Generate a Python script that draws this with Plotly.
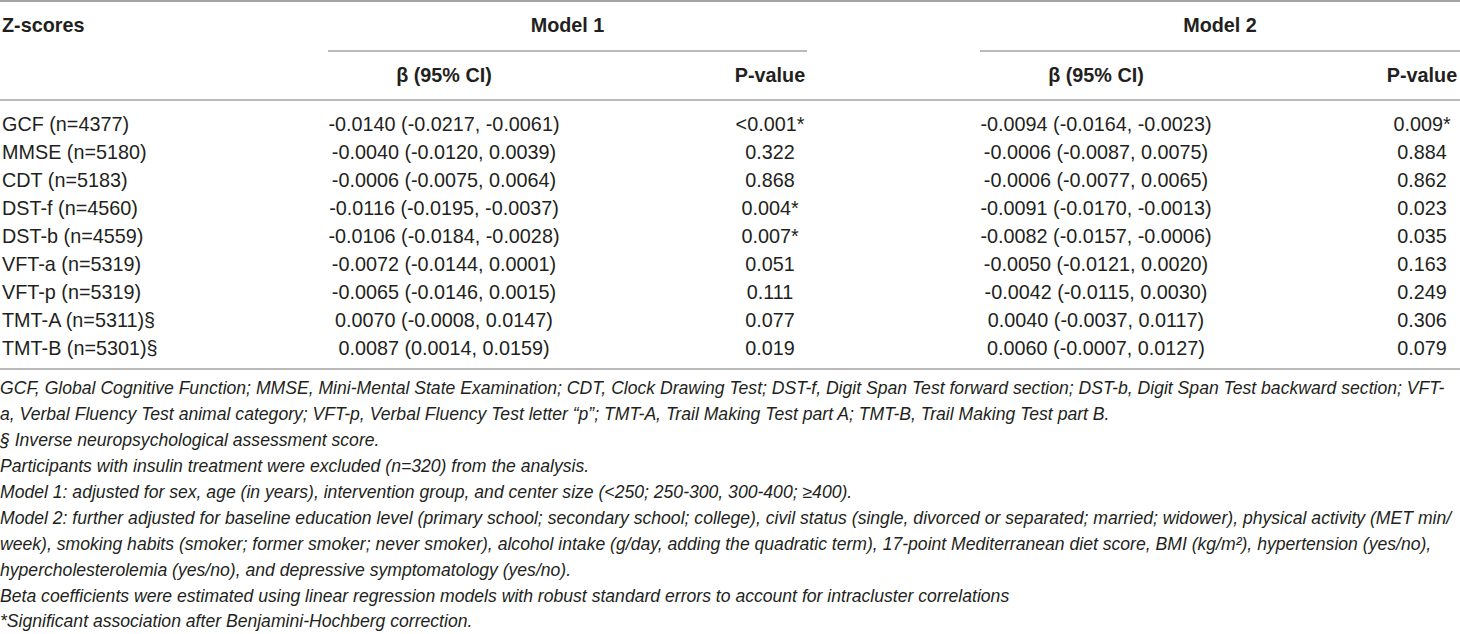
import plotly.graph_objects as go

# ---------------- data ----------------
group_headers = ["Model 1", "Model 2"]
corner_header = "Z-scores"
sub_headers = ["β (95% CI)", "P-value", "β (95% CI)", "P-value"]

outcomes = [
    "GCF (n=4377)", "MMSE (n=5180)", "CDT (n=5183)", "DST-f (n=4560)",
    "DST-b (n=4559)", "VFT-a (n=5319)", "VFT-p (n=5319)",
    "TMT-A (n=5311)§", "TMT-B (n=5301)§",
]
beta_m1 = [
    "-0.0140 (-0.0217, -0.0061)", "-0.0040 (-0.0120, 0.0039)",
    "-0.0006 (-0.0075, 0.0064)", "-0.0116 (-0.0195, -0.0037)",
    "-0.0106 (-0.0184, -0.0028)", "-0.0072 (-0.0144, 0.0001)",
    "-0.0065 (-0.0146, 0.0015)", "0.0070 (-0.0008, 0.0147)",
    "0.0087 (0.0014, 0.0159)",
]
p_m1 = ["&lt;0.001*", "0.322", "0.868", "0.004*", "0.007*", "0.051",
        "0.111", "0.077", "0.019"]
beta_m2 = [
    "-0.0094 (-0.0164, -0.0023)", "-0.0006 (-0.0087, 0.0075)",
    "-0.0006 (-0.0077, 0.0065)", "-0.0091 (-0.0170, -0.0013)",
    "-0.0082 (-0.0157, -0.0006)", "-0.0050 (-0.0121, 0.0020)",
    "-0.0042 (-0.0115, 0.0030)", "0.0040 (-0.0037, 0.0117)",
    "0.0060 (-0.0007, 0.0127)",
]
p_m2 = ["0.009*", "0.884", "0.862", "0.023", "0.035", "0.163",
        "0.249", "0.306", "0.079"]

footnotes = [
    "GCF, Global Cognitive Function; MMSE, Mini-Mental State Examination; CDT, Clock Drawing Test; DST-f, Digit Span Test forward section; DST-b, Digit Span Test backward section; VFT-",
    "a, Verbal Fluency Test animal category; VFT-p, Verbal Fluency Test letter “p”; TMT-A, Trail Making Test part A; TMT-B, Trail Making Test part B.",
    "§ Inverse neuropsychological assessment score.",
    "Participants with insulin treatment were excluded (n=320) from the analysis.",
    "Model 1: adjusted for sex, age (in years), intervention group, and center size (&lt;250; 250-300, 300-400; ≥400).",
    "Model 2: further adjusted for baseline education level (primary school; secondary school; college), civil status (single, divorced or separated; married; widower), physical activity (MET min/",
    "week), smoking habits (smoker; former smoker; never smoker), alcohol intake (g/day, adding the quadratic term), 17-point Mediterranean diet score, BMI (kg/m²), hypertension (yes/no),",
    "hypercholesterolemia (yes/no), and depressive symptomatology (yes/no).",
    "Beta coefficients were estimated using linear regression models with robust standard errors to account for intracluster correlations",
    "*Significant association after Benjamini-Hochberg correction.",
]

# ---------------- layout constants ----------------
W, H = 1460, 634
TXT = "#231f20"
RULE = "#a3a3a3"
FONT = "Liberation Sans, Arial, sans-serif"
BODY_SIZE = 19.8
FOOT_SIZE = 17.6

row_y0, row_dy = 126, 28
foot_y0, foot_dy = 390, 25.9
x_first = 2
col_centers = [444, 770, 1096, 1422]
group_spans = [(328, 807), (980, 1460)]

row_y = [row_y0 + i * row_dy for i in range(len(outcomes))]
foot_y = [foot_y0 + i * foot_dy for i in range(len(footnotes))]

fig = go.Figure()

def text_trace(xs, ys, texts, pos, size=BODY_SIZE):
    fig.add_trace(go.Scatter(
        x=xs, y=ys, text=texts, mode="text", textposition=pos,
        textfont=dict(family=FONT, size=size, color=TXT),
        hoverinfo="skip", showlegend=False, cliponaxis=False,
    ))

# headers
text_trace([x_first], [27], ["<b>" + corner_header + "</b>"], "middle right")
text_trace([(a + b) / 2 for a, b in group_spans], [27, 27],
           ["<b>" + g + "</b>" for g in group_headers], "middle center")
text_trace(col_centers, [77] * 4, ["<b>" + s + "</b>" for s in sub_headers],
           "middle center")

# body
text_trace([x_first] * len(outcomes), row_y, outcomes, "middle right")
for cx, col in zip(col_centers, [beta_m1, p_m1, beta_m2, p_m2]):
    text_trace([cx] * len(col), row_y, col, "middle center")

# footnotes
text_trace([x_first - 2] * len(footnotes), foot_y,
           ["<i>" + f + "</i>" for f in footnotes], "middle right", FOOT_SIZE)

# rules
shapes = []
def hline(x0, x1, y, w=1.5):
    shapes.append(dict(type="line", xref="x", yref="y", x0=x0, x1=x1,
                       y0=y, y1=y, line=dict(color=RULE, width=w)))

hline(0, W, 1, 2)
for a, b in group_spans:
    hline(a, b, 51)
hline(0, W, 100)
hline(0, W, 369)

fig.update_layout(
    width=W, height=H,
    margin=dict(l=0, r=0, t=0, b=0),
    paper_bgcolor="white", plot_bgcolor="white",
    shapes=shapes,
    hovermode=False,
    xaxis=dict(range=[0, W], visible=False, fixedrange=True),
    yaxis=dict(range=[H, 0], visible=False, fixedrange=True),
)

fig.write_html("out.html",
               config={"displayModeBar": False, "staticPlot": True},
               post_script="document.body.style.margin='0';document.body.style.overflow='hidden';")
